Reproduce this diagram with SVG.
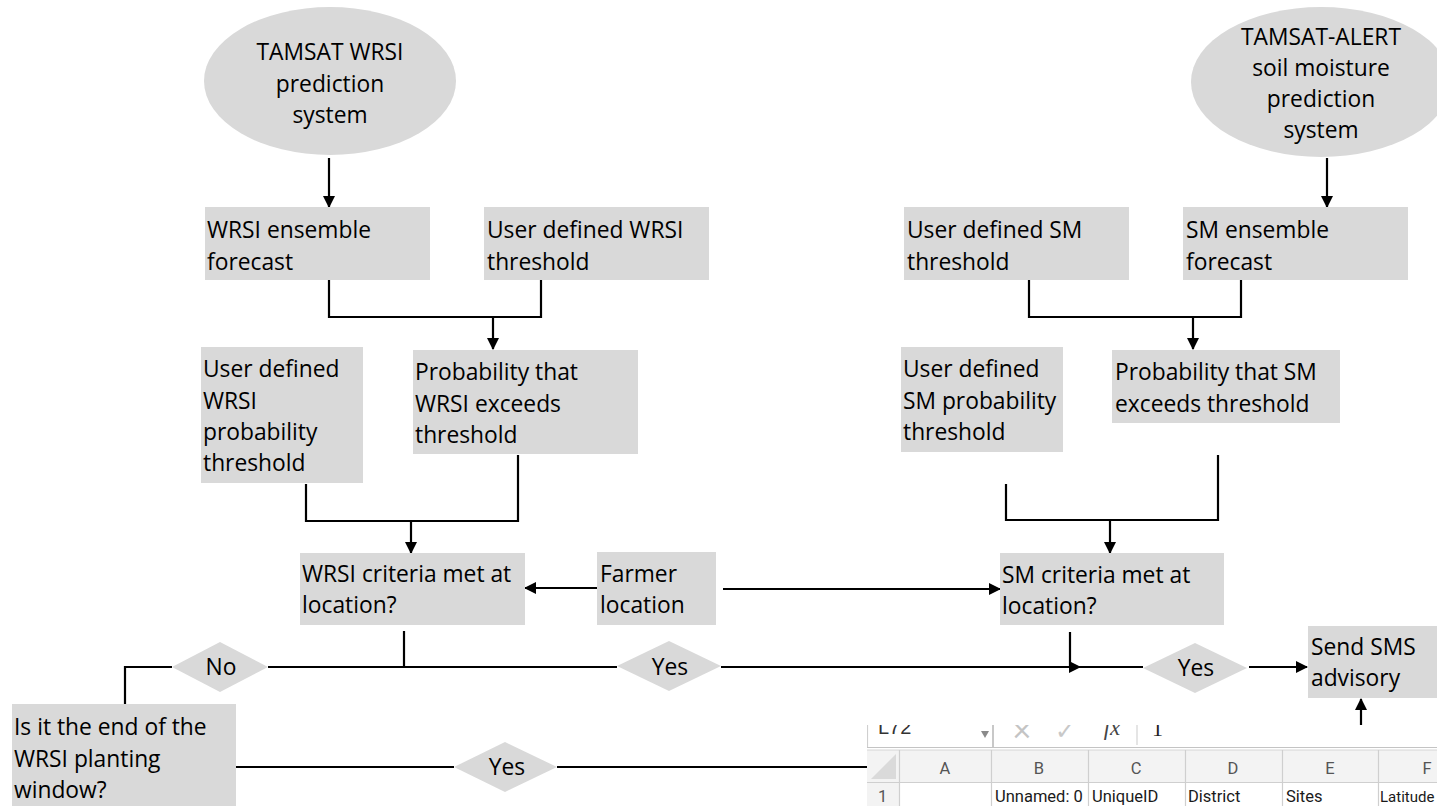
<svg xmlns="http://www.w3.org/2000/svg" width="1437" height="806" viewBox="0 0 1437 806">
<style>
.box{fill:#d9d9d9;stroke:none}
.t{font-family:"Open Sans","Liberation Sans",sans-serif;font-size:22.8px;font-weight:500;fill:#000}
.c{text-anchor:middle}
.ln{fill:none;stroke:#000;stroke-width:2.2}
.ar{fill:none;stroke:#000;stroke-width:2.2;marker-end:url(#ah)}
.sg{stroke:#cfcfcf;stroke-width:1.2;fill:none}
.st{font-family:Roboto,"Liberation Sans",sans-serif;font-size:16.5px}
</style>
<defs>
<marker id="ah" viewBox="0 0 12 12" refX="11" refY="6" markerWidth="12" markerHeight="12" markerUnits="userSpaceOnUse" orient="auto">
<path d="M0,0 L12,6 L0,12 z" fill="#000"/>
</marker>
<clipPath id="sheet"><rect x="867" y="725" width="570" height="81"/></clipPath>
</defs>
<rect width="1437" height="806" fill="#fff"/>

<g id="connectors">
<path class="ar" d="M329,158 V207"/>
<path class="ar" d="M1327,158 V207"/>
<path class="ln" d="M329,280 V317 H541 V280"/>
<path class="ar" d="M493,317 V349"/>
<path class="ln" d="M1029,280 V317 H1241 V280"/>
<path class="ar" d="M1193,317 V349"/>
<path class="ln" d="M306,484 V521 H518 V455"/>
<path class="ar" d="M411,521 V553"/>
<path class="ln" d="M1006,484 V520 H1218 V455"/>
<path class="ar" d="M1110,520 V553"/>
<path class="ar" d="M597,588 H525"/>
<path class="ar" d="M723,589 H1000"/>
<path class="ln" d="M404,631 V667"/>
<path class="ln" d="M268,667 H617"/>
<path class="ln" d="M172,667 H125 V704"/>
<path class="ar" d="M721,667 H1080"/>
<path class="ln" d="M1070,632 V667 H1143"/>
<path class="ar" d="M1249,667 H1307"/>
<path class="ln" d="M236,767 H454"/>
<path class="ar" d="M557,767 H1361 V699"/>
</g>

<g id="tamsat-wrsi">
<ellipse class="box" cx="330" cy="81" rx="126" ry="74"/>
<text class="t c" x="330" y="60">TAMSAT WRSI</text>
<text class="t c" x="330" y="92">prediction</text>
<text class="t c" x="330" y="123">system</text>
</g>
<g id="tamsat-alert">
<ellipse class="box" cx="1321" cy="82" rx="130" ry="75"/>
<text class="t c" x="1321" y="45">TAMSAT-ALERT</text>
<text class="t c" x="1321" y="76">soil moisture</text>
<text class="t c" x="1321" y="107">prediction</text>
<text class="t c" x="1321" y="138">system</text>
</g>
<g id="wrsi-ensemble">
<rect class="box" x="205" y="207" width="225" height="73"/>
<text class="t" x="207" y="238">WRSI ensemble</text>
<text class="t" x="207" y="270">forecast</text>
</g>
<g id="wrsi-threshold">
<rect class="box" x="484" y="207" width="225" height="73"/>
<text class="t" x="487" y="238">User defined WRSI</text>
<text class="t" x="487" y="270">threshold</text>
</g>
<g id="sm-threshold">
<rect class="box" x="904" y="207" width="225" height="73"/>
<text class="t" x="907" y="238">User defined SM</text>
<text class="t" x="907" y="270">threshold</text>
</g>
<g id="sm-ensemble">
<rect class="box" x="1183" y="207" width="225" height="73"/>
<text class="t" x="1186" y="238">SM ensemble</text>
<text class="t" x="1186" y="270">forecast</text>
</g>
<g id="wrsi-prob-threshold">
<rect class="box" x="201" y="347" width="162" height="136"/>
<text class="t" x="203" y="377">User defined</text>
<text class="t" x="203" y="409">WRSI</text>
<text class="t" x="203" y="440">probability</text>
<text class="t" x="203" y="471">threshold</text>
</g>
<g id="wrsi-probability">
<rect class="box" x="413" y="350" width="225" height="104"/>
<text class="t" x="415" y="380">Probability that</text>
<text class="t" x="415" y="412">WRSI exceeds</text>
<text class="t" x="415" y="443">threshold</text>
</g>
<g id="sm-prob-threshold">
<rect class="box" x="901" y="347" width="162" height="105"/>
<text class="t" x="903" y="377">User defined</text>
<text class="t" x="903" y="409">SM probability</text>
<text class="t" x="903" y="440">threshold</text>
</g>
<g id="sm-probability">
<rect class="box" x="1112" y="350" width="228" height="73"/>
<text class="t" x="1115" y="380">Probability that SM</text>
<text class="t" x="1115" y="412">exceeds threshold</text>
</g>
<g id="wrsi-criteria">
<rect class="box" x="300" y="553" width="225" height="72"/>
<text class="t" x="302" y="582">WRSI criteria met at</text>
<text class="t" x="302" y="613">location?</text>
</g>
<g id="farmer-location">
<rect class="box" x="597" y="552" width="119" height="73"/>
<text class="t" x="600" y="582">Farmer</text>
<text class="t" x="600" y="613">location</text>
</g>
<g id="sm-criteria">
<rect class="box" x="1000" y="553" width="224" height="72"/>
<text class="t" x="1002" y="583">SM criteria met at</text>
<text class="t" x="1002" y="614">location?</text>
</g>
<g id="no-diamond">
<polygon class="box" points="172,667 220,642 268,667 220,692"/>
<text class="t c" x="221" y="675">No</text>
</g>
<g id="yes-wrsi">
<polygon class="box" points="617,666 669,641 721,666 669,691"/>
<text class="t c" x="670" y="675">Yes</text>
</g>
<g id="yes-sm">
<polygon class="box" points="1143,668 1195,643 1247,668 1195,693"/>
<text class="t c" x="1196" y="676">Yes</text>
</g>
<g id="send-sms">
<rect class="box" x="1308" y="626" width="140" height="72"/>
<text class="t" x="1311" y="655">Send SMS</text>
<text class="t" x="1311" y="686">advisory</text>
</g>
<g id="end-window">
<rect class="box" x="12" y="704" width="224" height="110"/>
<text class="t" x="14" y="735">Is it the end of the</text>
<text class="t" x="14" y="767">WRSI planting</text>
<text class="t" x="14" y="798">window?</text>
</g>
<g id="yes-end">
<polygon class="box" points="454,767 505,742 557,767 505,792"/>
<text class="t c" x="507" y="775">Yes</text>
</g>

<g id="spreadsheet" clip-path="url(#sheet)">
<rect x="867" y="725" width="570" height="81" fill="#fff"/>
<line class="sg" x1="867.5" y1="722" x2="867.5" y2="747"/>
<text x="878" y="734" style="font-family:'Liberation Sans',sans-serif;font-size:20px;fill:#333">L72</text>
<polygon points="981,731 989,731 985,738" fill="#8a8a8a"/>
<line x1="993" y1="722" x2="993" y2="747" stroke="#c8c8c8" stroke-width="2"/>
<text x="1022" y="739" style="font-family:'DejaVu Sans',sans-serif;font-size:26px;fill:#c4c4c4" class="c">×</text>
<text x="1065" y="739" style="font-family:'DejaVu Sans',sans-serif;font-size:24px;fill:#c8c8c8" class="c">✓</text>
<text x="1112" y="735" style="font-family:'Liberation Serif',serif;font-style:italic;font-size:23px;fill:#444" class="c">fx</text>
<line x1="1137" y1="722" x2="1137" y2="745" stroke="#dcdcdc" stroke-width="1.5"/>
<text x="1152" y="736" style="font-family:'Liberation Serif',serif;font-size:22px;fill:#222">1</text>
<line x1="867" y1="747.5" x2="1437" y2="747.5" stroke="#c4c4c4" stroke-width="1.2"/>
<rect x="867" y="750" width="570" height="32" fill="#f3f3f3"/>
<rect x="867" y="782" width="32" height="24" fill="#f3f3f3"/>
<line x1="867" y1="750" x2="1437" y2="750" stroke="#d6d6d6" stroke-width="1"/>
<line class="sg" x1="867" y1="782.5" x2="1437" y2="782.5"/>
<polygon points="896,754 896,779 871,779" fill="#dadada"/>
<path class="sg" d="M899.5,750 V806 M991.5,750 V806 M1088.5,750 V806 M1185.5,750 V806 M1282.5,750 V806 M1378.5,750 V806"/>
<g class="st c" fill="#555">
<text x="945" y="774">A</text>
<text x="1039" y="774">B</text>
<text x="1136" y="774">C</text>
<text x="1233" y="774">D</text>
<text x="1330" y="774">E</text>
<text x="1427" y="774">F</text>
</g>
<text class="st" x="878" y="802" fill="#555">1</text>
<g class="st" fill="#1a1a1a">
<text x="995" y="802">Unnamed: 0</text>
<text x="1092" y="802">UniqueID</text>
<text x="1188" y="802">District</text>
<text x="1286" y="802">Sites</text>
<text x="1380" y="802" style="font-size:15px">Latitude</text>
</g>
</g>
</svg>
